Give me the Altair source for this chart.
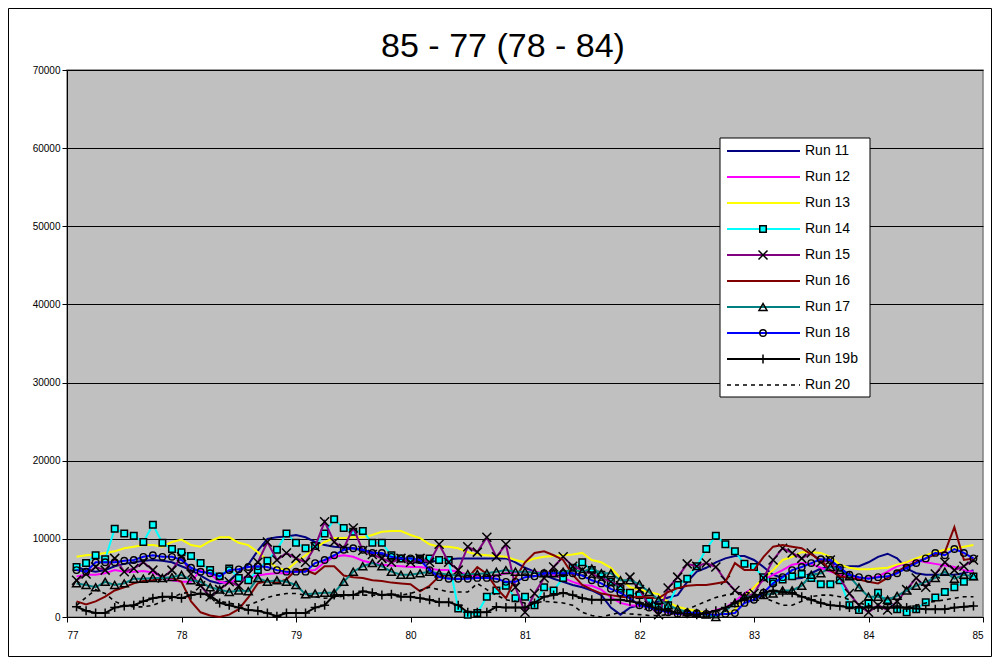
import altair as alt
import pandas as pd

# monthly points, 77 + i/12
x_months = [round(77 + i / 12, 4) for i in range(1, 96)]

# values in thousands
run_11 = [6.4, 6.0, 5.8, 6.0, 6.5, 6.8, 7.0, 7.2, 7.3, 7.2, 7.0,
          6.5, 6.0, 5.3, 4.6, 4.3, 4.6, 5.8, 6.7, 8.5, 10.0, 10.2, 10.3,
          10.5, 10.2, 9.6, 9.2, 9.0, 8.9, 8.8, 8.5, 8.3, 8.0, 7.6, 7.3,
          7.1, 6.9, 7.0, 7.3, 7.4, 7.5, 7.5, 7.5, 7.5, 7.5, 7.5, 7.0,
          6.3, 5.8, 5.4, 4.9, 4.5, 4.1, 3.8, 3.4, 2.8, 1.2, 0.3, 1.2,
          1.5, 1.6, 2.0, 2.5, 2.8, 4.5, 5.8, 6.3, 7.0, 7.5, 7.8, 7.8,
          7.3, 6.4, 5.4, 5.0, 4.9, 5.0, 5.6, 6.2, 6.4, 6.4, 6.5, 6.5,
          7.0, 7.7, 8.1, 7.5, 6.2, 5.6, 5.4, 5.4, 5.4, 5.4, 5.6, 6.0]
run_12 = [5.2, 5.4, 5.4, 5.6, 6.0, 5.8, 5.8, 5.9, 5.7, 5.1, 4.7,
          4.5, 4.5, 6.0, 5.5, 4.5, 4.3, 5.0, 5.1, 5.3, 5.5, 5.6, 5.6,
          5.8, 5.9, 6.0, 7.0, 7.7, 7.9, 7.7, 7.2, 6.9, 6.7, 6.6, 6.5,
          6.4, 6.4, 6.2, 6.0, 6.0, 5.8, 5.4, 5.2, 5.0, 5.3, 5.6, 5.7,
          5.8, 5.8, 5.6, 5.4, 5.0, 4.5, 4.1, 4.0, 3.5, 2.5, 1.8, 1.5,
          1.4, 1.3, 1.0, 0.5, 0.4, 0.3, 0.3, 0.5, 0.9, 1.2, 2.0, 3.0,
          3.8, 4.7, 5.4, 6.0, 6.7, 6.9, 6.8, 6.3, 5.8, 5.4, 5.1, 5.0,
          5.0, 5.2, 5.8, 6.5, 7.0, 7.3, 7.0, 6.8, 6.6, 6.4, 6.0, 5.8]
run_13 = [7.7, 7.9, 8.0, 8.2, 8.4, 8.8, 9.0, 9.2, 9.2, 9.0, 9.6,
          9.9, 9.2, 9.0, 9.7, 10.2, 10.2, 9.5, 9.2, 8.3, 7.3, 6.3, 6.0,
          7.0, 7.9, 8.8, 9.6, 10.1, 10.1, 10.2, 10.2, 10.5, 10.9, 11.0, 11.0,
          10.5, 10.1, 9.3, 9.0, 9.0, 8.8, 8.3, 8.0, 7.9, 7.8, 7.7, 7.3,
          7.0, 7.5, 7.7, 7.8, 7.9, 8.0, 8.2, 7.3, 7.0, 6.3, 5.0, 3.8,
          3.5, 3.2, 2.9, 1.9, 1.3, 1.0, 0.8, 0.5, 0.3, 0.4, 0.9, 2.6,
          3.8, 5.0, 6.0, 7.3, 7.7, 8.3, 8.3, 8.2, 7.7, 6.7, 6.3, 6.1,
          6.1, 6.2, 6.3, 6.7, 7.0, 7.5, 7.9, 8.3, 8.6, 8.8, 9.0, 9.2]
run_14 = [6.4, 6.9, 7.9, 7.4, 11.3, 10.7, 10.4, 9.6, 11.8, 9.5, 8.7,
          8.3, 7.8, 6.9, 6.0, 5.2, 6.2, 5.0, 4.7, 6.0, 7.2, 8.6, 10.7,
          9.5, 8.8, 9.1, 10.7, 12.5, 11.4, 10.9, 11.0, 9.5, 9.5, 7.9, 7.5,
          7.3, 7.5, 7.5, 7.3, 7.3, 1.1, 0.3, 0.5, 2.6, 3.4, 4.0, 2.4,
          2.6, 1.5, 3.8, 3.4, 5.0, 6.3, 7.0, 6.0, 5.4, 4.5, 3.6, 3.1,
          2.8, 2.0, 1.2, 1.5, 4.1, 4.9, 6.5, 8.7, 10.4, 9.3, 8.4, 6.8,
          6.4, 5.1, 4.5, 4.8, 5.2, 5.5, 5.0, 4.2, 4.2, 4.7, 1.5, 0.9,
          1.8, 3.1, 2.0, 1.0, 0.6, 1.0, 1.9, 2.5, 3.2, 3.8, 4.5, 5.2]
run_15 = [4.7, 5.5, 6.4, 6.0, 7.5, 5.8, 6.2, 7.0, 6.0, 5.0, 6.0,
          7.7, 5.5, 4.0, 2.6, 3.5, 4.5, 4.0, 5.5, 7.0, 9.6, 7.3, 8.2,
          7.5, 7.0, 9.0, 12.2, 9.6, 8.8, 11.4, 8.5, 8.0, 7.5, 7.0, 7.5,
          7.0, 7.5, 7.0, 9.3, 7.0, 6.0, 9.0, 8.3, 10.2, 7.7, 9.3, 3.8,
          0.6, 3.0, 5.0, 6.4, 7.7, 6.5, 6.0, 5.5, 5.0, 4.5, 4.0, 5.1,
          3.5, 1.5, 0.3, 3.7, 5.1, 6.8, 6.5, 6.9, 6.4, 4.7, 3.4, 2.5,
          3.0, 5.0, 7.3, 8.8, 8.2, 7.5, 8.2, 7.0, 7.3, 5.0, 3.0, 1.5,
          0.6, 1.5, 0.9, 2.0, 3.5, 5.0, 3.8, 5.5, 7.0, 6.0, 6.5, 7.3]
run_16 = [2.0, 1.6, 2.0, 2.6, 3.4, 3.8, 4.3, 4.6, 4.7, 5.0, 5.0,
          4.5, 2.0, 0.6, 0.2, 0.0, 0.3, 1.0, 2.5, 4.3, 4.6, 4.4, 4.8,
          6.0, 6.0, 5.5, 6.5, 6.5, 5.3, 5.1, 5.0, 4.7, 4.6, 4.4, 4.3,
          4.2, 3.3, 4.0, 5.2, 5.4, 5.4, 5.0, 6.4, 5.5, 3.7, 2.4, 5.0,
          7.0, 8.2, 8.4, 7.9, 7.3, 5.4, 4.1, 3.5, 3.0, 2.8, 2.6, 2.5,
          2.6, 2.5, 2.4, 3.2, 3.7, 4.0, 4.1, 4.1, 4.3, 4.5, 6.9, 6.0,
          6.0, 7.7, 9.0, 9.2, 9.0, 8.8, 8.0, 7.3, 6.0, 5.2, 5.0, 4.8,
          4.5, 4.3, 5.0, 5.8, 6.5, 7.0, 7.5, 8.0, 8.3, 11.5, 7.3, 7.5]
run_17 = [4.3, 4.1, 3.8, 4.5, 4.1, 4.3, 4.9, 4.9, 5.0, 5.0, 5.1,
          5.4, 4.7, 4.5, 3.8, 3.5, 3.2, 3.4, 3.3, 5.0, 4.5, 4.7, 4.5,
          4.1, 2.9, 3.0, 3.1, 3.1, 4.5, 5.8, 6.5, 6.9, 6.5, 5.8, 5.4,
          5.4, 5.6, 5.8, 5.6, 5.4, 5.3, 5.5, 5.5, 5.6, 5.8, 6.0, 5.8,
          5.8, 5.7, 5.6, 5.6, 5.8, 6.0, 5.8, 6.2, 5.6, 5.6, 4.7, 4.7,
          4.2, 3.2, 2.2, 1.5, 1.0, 0.6, 0.5, 0.3, 0.0, 0.8, 1.8, 2.6,
          2.6, 2.8, 3.0, 3.4, 3.4, 4.0, 5.4, 5.6, 6.4, 6.0, 5.2, 3.8,
          2.6, 2.6, 2.2, 2.7, 3.4, 4.0, 4.5, 5.0, 5.8, 4.9, 5.4, 5.2]
run_18 = [6.0, 5.8, 7.0, 7.0, 7.0, 7.2, 7.3, 7.7, 7.9, 7.7, 7.7,
          7.3, 6.3, 5.8, 5.6, 5.2, 6.0, 6.1, 6.4, 6.5, 6.4, 6.0, 5.8,
          5.8, 5.8, 6.9, 7.3, 7.9, 8.6, 8.8, 8.6, 8.2, 8.2, 7.7, 7.5,
          7.5, 7.3, 6.0, 5.1, 4.9, 4.9, 4.9, 5.0, 5.0, 4.9, 4.5, 4.5,
          5.1, 5.2, 5.6, 5.6, 5.6, 5.6, 5.3, 4.7, 4.3, 3.6, 3.1, 2.4,
          1.5, 1.2, 0.9, 0.6, 0.4, 0.5, 0.5, 0.4, 0.3, 0.4, 0.5, 1.8,
          2.2, 3.1, 4.3, 5.1, 6.0, 6.4, 6.9, 7.4, 7.3, 6.3, 5.4, 5.1,
          4.9, 5.1, 5.2, 5.6, 6.3, 6.9, 7.5, 8.2, 7.9, 8.7, 8.2, 7.5]
run_19b = [1.3, 0.8, 0.5, 0.5, 1.2, 1.4, 1.5, 2.0, 2.4, 2.6, 2.6,
           2.4, 2.8, 3.0, 2.8, 1.8, 1.5, 1.2, 0.9, 0.8, 0.5, 0.1, 0.5,
           0.5, 0.5, 1.2, 1.5, 2.8, 2.8, 2.8, 3.3, 3.1, 2.8, 2.9, 2.6,
           2.6, 2.4, 2.2, 1.9, 1.9, 1.5, 0.6, 0.6, 0.6, 1.3, 1.2, 1.2,
           1.2, 1.8, 2.6, 2.8, 3.1, 2.8, 2.4, 2.2, 2.2, 2.2, 2.2, 2.0,
           1.8, 1.4, 1.0, 0.8, 0.5, 0.4, 0.3, 0.5, 0.8, 1.2, 1.8, 2.4,
           2.6, 3.1, 3.4, 3.2, 3.1, 2.6, 2.2, 1.8, 1.5, 1.4, 1.2, 1.2,
           1.2, 1.2, 1.2, 1.2, 1.2, 1.1, 1.0, 1.0, 1.0, 1.2, 1.3, 1.4]
run_20 = [1.5, 2.5, 3.5, 3.0, 2.0, 1.5, 1.3, 1.3, 1.5, 2.0, 2.5,
          3.0, 3.2, 3.0, 2.5, 2.0, 1.8, 1.5, 1.5, 2.0, 2.5, 2.8, 3.0,
          3.0, 2.8, 2.6, 2.4, 2.5, 2.7, 2.8, 2.8, 2.8, 2.8, 2.8, 2.8,
          3.0, 3.4, 3.8, 3.5, 3.2, 3.2, 3.2, 4.3, 3.5, 2.8, 2.2, 2.0,
          1.8, 1.8, 2.0, 1.9, 1.8, 1.5, 0.6, 0.2, 0.0, 0.3, 0.6, 0.4,
          0.3, 0.2, 0.2, 0.3, 0.5, 1.0, 1.5, 2.0, 2.5, 2.8, 3.0, 3.2,
          3.0, 2.5, 2.0, 1.5, 1.5, 2.0, 2.6, 2.8, 2.8, 2.6, 2.2, 1.8,
          1.5, 1.2, 1.2, 1.2, 1.3, 1.5, 1.8, 2.0, 2.2, 2.4, 2.6, 2.6]

series_names = ["Run 11", "Run 12", "Run 13", "Run 14", "Run 15",
                "Run 16", "Run 17", "Run 18", "Run 19b", "Run 20"]
series_values = [run_11, run_12, run_13, run_14, run_15,
                 run_16, run_17, run_18, run_19b, run_20]
line_colors = ["#000080", "#FF00FF", "#FFFF00", "#00FFFF", "#800080",
               "#800000", "#008080", "#0000FF", "#000000", "#000000"]
marker_kind = [None, None, None, "square", "x", None, "triangle", "circle", "plus", None]
y_ticks = list(range(0, 70001, 10000))
x_ticks = list(range(77, 86))
title_text = "85 - 77 (78 - 84)"

X_PATH = "M-1,-1L1,1M-1,1L1,-1"
PLUS_PATH = "M-1,0L1,0M0,-1L0,1"
marker_style = {
    "square": dict(shape="square", size=42, filled=True, fill="#00FFFF",
                   stroke="#000000", strokeWidth=1.5, opacity=1),
    "x": dict(shape=X_PATH, size=81, filled=False, stroke="#000000",
              strokeWidth=1.5, opacity=1),
    "triangle": dict(shape="triangle-up", size=64, filled=False,
                     stroke="#000000", strokeWidth=1.5, opacity=1),
    "circle": dict(shape="circle", size=42, filled=False, stroke="#000000",
                   strokeWidth=1.4, opacity=1),
    "plus": dict(shape=PLUS_PATH, size=81, filled=False, stroke="#000000",
                 strokeWidth=1.5, opacity=1),
}

FONT = "Liberation Sans"
x_scale = alt.Scale(domain=[77, 85], nice=False, zero=False)
y_scale = alt.Scale(domain=[0, 70000], nice=False)
x_axis = alt.Axis(values=x_ticks, format="d", title=None, grid=False,
                  tickSize=5, labelPadding=8, labelFontSize=10, labelFont=FONT,
                  labelColor="black", domainColor="black", tickColor="black")
y_axis = alt.Axis(values=y_ticks, format="d", title=None, grid=True,
                  gridColor="#000000", gridWidth=1, tickSize=5, labelPadding=2,
                  labelFontSize=10, labelFont=FONT, labelColor="black",
                  domainColor="black", tickColor="black")

data_layers = []
for name, vals, col, mk in zip(series_names, series_values, line_colors, marker_kind):
    d = pd.DataFrame({"x": x_months, "value": [v * 1000 for v in vals],
                      "series": name})
    enc = dict(
        x=alt.X("x:Q", scale=x_scale, axis=x_axis),
        y=alt.Y("value:Q", scale=y_scale, axis=y_axis),
    )
    lk = dict(color=col, strokeWidth=2)
    if name == "Run 20":
        lk = dict(color=col, strokeWidth=1.6, strokeDash=[4, 4])
    base = alt.Chart(d)
    data_layers.append(base.mark_line(**lk).encode(**enc))
    if mk:
        data_layers.append(base.mark_point(**marker_style[mk]).encode(**enc))
data_group = alt.layer(*data_layers)

# legend (drawn inside the plot), title and outer frame
legend_df = pd.DataFrame({"series": series_names, "row": list(range(10))})
leg_y = alt.Y("row:Q", scale=alt.Scale(domain=[0, 9], range=[81, 315]), axis=None)
one = pd.DataFrame({"k": [0]})

deco_layers = [
    alt.Chart(one).mark_rect(fill="white", stroke="black", strokeWidth=1).encode(
        x=alt.value(653), x2=alt.value(803), y=alt.value(68), y2=alt.value(327))
]
for name, col, mk in zip(series_names, line_colors, marker_kind):
    lk = dict(color=col, strokeWidth=2)
    if name == "Run 20":
        lk = dict(color=col, strokeWidth=1.6, strokeDash=[4, 4])
    src = alt.Chart(legend_df).transform_filter(alt.datum.series == name)
    deco_layers.append(src.mark_rule(**lk).encode(x=alt.value(660), x2=alt.value(733), y=leg_y))
    if mk:
        deco_layers.append(src.mark_point(**marker_style[mk]).encode(x=alt.value(696), y=leg_y))
deco_layers.append(
    alt.Chart(legend_df).mark_text(
        align="left", baseline="middle", fontSize=14, font=FONT, color="black"
    ).encode(x=alt.value(738), y=leg_y, text="series:N")
)
deco_layers.append(
    alt.Chart(one).mark_text(
        align="center", baseline="alphabetic", fontSize=34, font=FONT, color="black"
    ).encode(x=alt.value(436), y=alt.value(-13), text=alt.value(title_text))
)
deco_layers.append(
    alt.Chart(one).mark_rect(
        fill="white", fillOpacity=0, stroke="black", strokeWidth=1
    ).encode(x=alt.value(-58.5), x2=alt.value(924.5), y=alt.value(-61.5), y2=alt.value(586.5))
)
deco_group = alt.layer(*deco_layers)

chart = alt.layer(data_group, deco_group).resolve_scale(y="independent").properties(
    width=916,
    height=547,
    background="white",
    padding={"left": 59, "top": 62, "right": 9, "bottom": 41},
    autosize=alt.AutoSizeParams(type="none"),
).configure_view(
    fill="#C0C0C0", stroke="#808080", strokeWidth=1.5
)

chart.save("out.html", embed_options={"renderer": "svg", "actions": False})
